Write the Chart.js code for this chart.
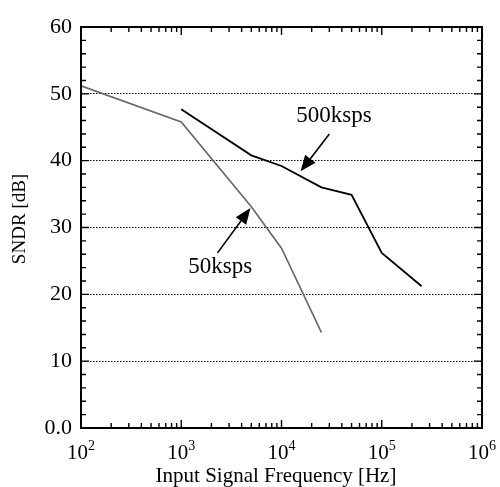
<!DOCTYPE html>
<html><head><meta charset="utf-8">
<script src="https://cdn.jsdelivr.net/npm/chart.js@4"></script>
<style>html,body{margin:0;padding:0;background:#fff}#wrap{width:500px;height:487px;position:relative}</style>
</head><body><div id="wrap"><canvas id="c"></canvas></div>
<script>
// ---- data ----
const freq50 = [100, 1000, 5000, 10000, 25000];
const sndr50 = [51.2, 45.8, 33.1, 26.9, 14.3];
const freq500 = [1000, 5000, 10000, 25000, 50000, 100000, 250000];
const sndr500 = [47.7, 40.8, 39.2, 36.0, 34.9, 26.2, 21.2];
const seriesNames = ['50ksps', '500ksps'];
const xTickValues = [100, 1000, 10000, 100000, 1000000];
const xTickBase = ['10', '10', '10', '10', '10'];
const xTickExp = ['2', '3', '4', '5', '6'];
const yTickValues = [0, 10, 20, 30, 40, 50, 60];
const yTickLabels = ['0.0', '10', '20', '30', '40', '50', '60'];
const xTitle = 'Input Signal Frequency [Hz]';
const yTitle = 'SNDR [dB]';
// annotation anchors in data units (frequency, dB)
const annText = ['500ksps', '50ksps'];
const annTextAt = [[33400, 46.7], [2450, 24.1]];
const annArrowFrom = [[30000, 44.0], [2300, 26.2]];
const annArrowTo = [[15500, 38.4], [4900, 32.9]];

const FONT = "'Liberation Serif', 'Times New Roman', serif";

function toXY(arrX, arrY) { return arrX.map((x, i) => ({x: x, y: arrY[i]})); }

const framePlugin = {
  id: 'frame',
  afterDraw(chart) {
    const ctx = chart.ctx;
    const xs = chart.scales.x, ys = chart.scales.y;
    const a = chart.chartArea;
    ctx.save();
    // ticks
    ctx.strokeStyle = '#000';
    ctx.lineWidth = 1.4;
    ctx.beginPath();
    for (let v = 0; v <= 60; v += 2) {
      const py = ys.getPixelForValue(v);
      const len = (v % 10 === 0) ? 8 : 5;
      ctx.moveTo(a.left, py); ctx.lineTo(a.left + len, py);
      ctx.moveTo(a.right, py); ctx.lineTo(a.right - len, py);
    }
    for (let d = 100; d < 1000000; d *= 10) {
      for (let m = 1; m <= 9; m++) {
        const px = xs.getPixelForValue(d * m);
        const len = (m === 1) ? 8 : 5;
        ctx.moveTo(px, a.bottom); ctx.lineTo(px, a.bottom - len);
        ctx.moveTo(px, a.top); ctx.lineTo(px, a.top + len);
      }
    }
    ctx.stroke();
    // frame
    ctx.lineWidth = 2;
    ctx.strokeRect(a.left, a.top, a.right - a.left, a.bottom - a.top);

    // x tick labels with superscripts
    ctx.fillStyle = '#000';
    ctx.textBaseline = 'alphabetic';
    ctx.textAlign = 'left';
    xTickValues.forEach((v, i) => {
      const px = xs.getPixelForValue(v);
      ctx.font = '21px ' + FONT;
      const wb = ctx.measureText(xTickBase[i]).width;
      ctx.font = '14px ' + FONT;
      const we = ctx.measureText(xTickExp[i]).width;
      const x0 = px - (wb + we) / 2;
      ctx.font = '21px ' + FONT;
      ctx.fillText(xTickBase[i], x0, 459);
      ctx.font = '14px ' + FONT;
      ctx.fillText(xTickExp[i], x0 + wb, 450);
    });

    // axis titles
    ctx.font = '21px ' + FONT;
    ctx.textAlign = 'center';
    ctx.textBaseline = 'middle';
    ctx.fillText(xTitle, 276, 476);
    ctx.save();
    ctx.translate(20, 219);
    ctx.rotate(-Math.PI / 2);
    ctx.font = '19px ' + FONT;
    ctx.fillText(yTitle, 0, 0);
    ctx.restore();

    // annotations
    annText.forEach((t, i) => {
      ctx.font = '23px ' + FONT;
      ctx.textAlign = 'center';
      ctx.textBaseline = 'middle';
      ctx.fillText(t, xs.getPixelForValue(annTextAt[i][0]), ys.getPixelForValue(annTextAt[i][1]));
      const x0 = xs.getPixelForValue(annArrowFrom[i][0]), y0 = ys.getPixelForValue(annArrowFrom[i][1]);
      const x1 = xs.getPixelForValue(annArrowTo[i][0]), y1 = ys.getPixelForValue(annArrowTo[i][1]);
      const ang = Math.atan2(y1 - y0, x1 - x0);
      const hl = 16, hw = 6.5;
      const bx = x1 - hl * Math.cos(ang), by = y1 - hl * Math.sin(ang);
      ctx.lineWidth = 1.6;
      ctx.beginPath(); ctx.moveTo(x0, y0); ctx.lineTo(bx, by); ctx.stroke();
      ctx.beginPath();
      ctx.moveTo(x1, y1);
      ctx.lineTo(bx + hw * Math.sin(ang), by - hw * Math.cos(ang));
      ctx.lineTo(bx - hw * Math.sin(ang), by + hw * Math.cos(ang));
      ctx.closePath(); ctx.fill();
    });
    ctx.restore();
  }
};

new Chart(document.getElementById('c'), {
  type: 'line',
  data: {
    datasets: [
      {label: seriesNames[0], data: toXY(freq50, sndr50), borderColor: '#666666', borderWidth: 1.6, pointRadius: 0, tension: 0, fill: false},
      {label: seriesNames[1], data: toXY(freq500, sndr500), borderColor: '#000000', borderWidth: 1.8, pointRadius: 0, tension: 0, fill: false}
    ]
  },
  options: {
    animation: false,
    responsive: true,
    maintainAspectRatio: false,
    layout: {padding: {top: 27, right: 18, left: 0, bottom: 0}},
    plugins: {legend: {display: false}, tooltip: {enabled: false}},
    scales: {
      x: {
        type: 'logarithmic', min: 100, max: 1000000,
        ticks: {display: false},
        grid: {display: false},
        border: {display: false},
        afterFit(s) { s.height = 59; }
      },
      y: {
        min: 0, max: 60,
        afterBuildTicks(s) { s.ticks = yTickValues.map(v => ({value: v})); },
        ticks: {
          padding: 9, color: '#000',
          font: {family: FONT, size: 22},
          callback: (v) => yTickLabels[yTickValues.indexOf(v)]
        },
        grid: {
          drawTicks: false, tickLength: 0, lineWidth: 1,
          color: (c) => (c.tick && (c.tick.value === 0 || c.tick.value === 60)) ? 'rgba(0,0,0,0)' : '#000'
        },
        border: {display: false, dash: [1.5, 1.5]},
        afterFit(s) { s.width = 81; }
      }
    }
  },
  plugins: [framePlugin]
});
</script>
</body></html>
